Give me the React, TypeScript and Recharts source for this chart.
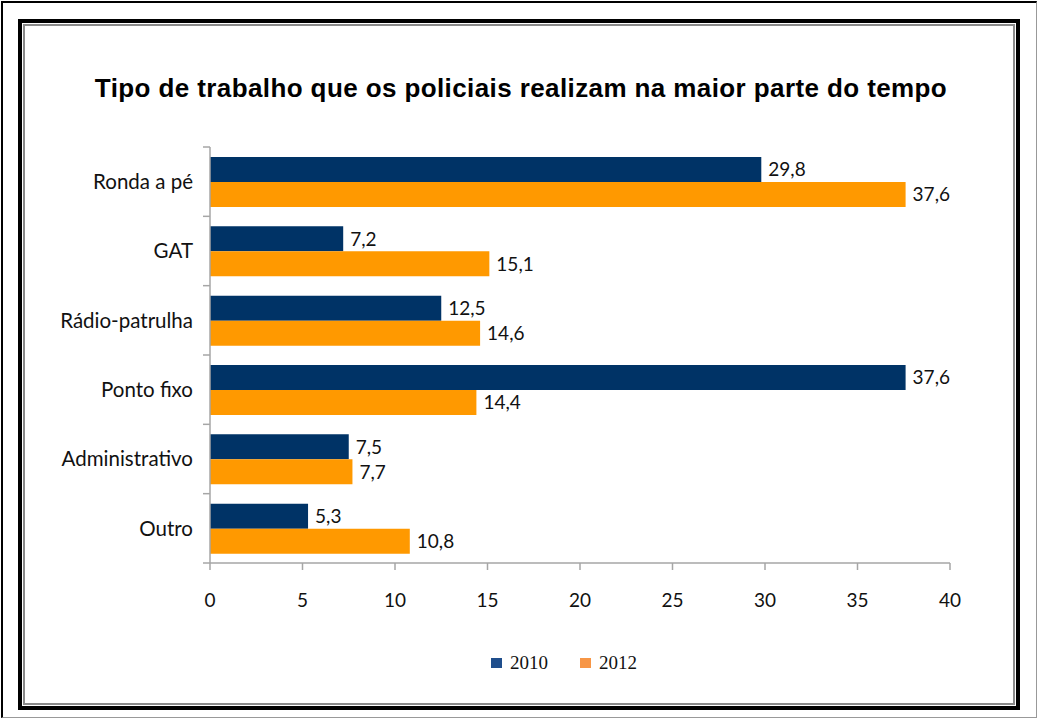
import React from 'react';
import { BarChart, Bar, XAxis, YAxis, LabelList } from 'recharts';

const categories = ['Ronda a pé', 'GAT', 'Rádio-patrulha', 'Ponto fixo', 'Administrativo', 'Outro'];
const values2010 = [29.8, 7.2, 12.5, 37.6, 7.5, 5.3];
const values2012 = [37.6, 15.1, 14.6, 14.4, 7.7, 10.8];
const xTicks = [0, 5, 10, 15, 20, 25, 30, 35, 40];
const seriesNames = ['2010', '2012'];
const title = 'Tipo de trabalho que os policiais realizam na maior parte do tempo';

const data = categories.map((name, i) => ({ name, y2010: values2010[i], y2012: values2012[i] }));

const W = 1039;
const H = 720;
const PLOT_LEFT = 210;
const PLOT_RIGHT = 950;
const PLOT_TOP = 147;
const PLOT_BOTTOM = 563;
const BAND = (PLOT_BOTTOM - PLOT_TOP) / categories.length;
const AXIS_COLOR = '#a6a6a6';
const C2010 = '#003366';
const C2012 = '#ff9900';
const LABEL_FONT = 'Lato, "Open Sans", sans-serif';

const fmt = (v: number) => v.toFixed(1).replace('.', ',');

const CategoryTick = (props: any) => {
  const { y, payload, index } = props;
  return (
    <g>
      <line x1={PLOT_LEFT - 7} x2={PLOT_LEFT} y1={y - BAND / 2} y2={y - BAND / 2} stroke={AXIS_COLOR} strokeWidth={1.5} />
      {index === categories.length - 1 && (
        <line x1={PLOT_LEFT - 7} x2={PLOT_LEFT} y1={y + BAND / 2} y2={y + BAND / 2} stroke={AXIS_COLOR} strokeWidth={1.5} />
      )}
      <text x={193} y={y} dy="0.35em" textAnchor="end" fontFamily={LABEL_FONT} fontSize={20.5} fill="#111">
        {payload.value}
      </text>
    </g>
  );
};

export default function App() {
  return (
    <div style={{ position: 'absolute', left: 0, top: 0, width: W, height: H, background: '#fff', overflow: 'hidden' }}>
      {/* outer page border */}
      <div style={{ position: 'absolute', left: 1, top: 1, width: W - 3, height: H - 3, borderLeft: '2px solid #000', borderTop: '2px solid #000', borderRight: '1px solid #999', borderBottom: '1px solid #999', boxSizing: 'border-box' }} />
      {/* frame */}
      <div style={{ position: 'absolute', left: 18, top: 19, width: 1002, height: 691, border: '4px solid #000', boxSizing: 'border-box' }} />
      <div style={{ position: 'absolute', left: 23, top: 24, width: 992, height: 681, border: '2px solid #8a8a8a', boxSizing: 'border-box' }} />
      {/* title */}
      <div style={{ position: 'absolute', left: 0, top: 73, width: 1042, textAlign: 'center', fontFamily: '"Liberation Sans", Arimo, Arial, sans-serif', fontWeight: 'bold', fontSize: 26, letterSpacing: '0.4px', color: '#000', lineHeight: '30px', whiteSpace: 'nowrap' }}>
        {title}
      </div>
      <div style={{ position: 'absolute', left: 0, top: 0 }}>
        <BarChart
          width={W}
          height={H}
          data={data}
          layout="vertical"
          margin={{ top: PLOT_TOP, right: W - PLOT_RIGHT, bottom: H - PLOT_BOTTOM - 40, left: 10 }}
          barCategoryGap={10}
          barGap={0}
        >
          <XAxis
            type="number"
            domain={[0, 40]}
            ticks={xTicks}
            interval={0}
            height={40}
            tickSize={7}
            tickMargin={24}
            stroke={AXIS_COLOR}
            axisLine={{ stroke: AXIS_COLOR, strokeWidth: 1.5 }}
            tickLine={{ stroke: AXIS_COLOR, strokeWidth: 1.5 }}
            tick={{ fill: '#111', fontFamily: LABEL_FONT, fontSize: 19 }}
          />
          <YAxis
            type="category"
            dataKey="name"
            width={200}
            interval={0}
            tickLine={false}
            axisLine={{ stroke: AXIS_COLOR, strokeWidth: 1.5 }}
            tick={<CategoryTick />}
          />
          <Bar dataKey="y2010" name={seriesNames[0]} fill={C2010} isAnimationActive={false}>
            <LabelList dataKey="y2010" position="right" offset={7} formatter={(v: any) => fmt(Number(v))} style={{ fill: '#111', fontFamily: LABEL_FONT, fontSize: 19 }} />
          </Bar>
          <Bar dataKey="y2012" name={seriesNames[1]} fill={C2012} isAnimationActive={false}>
            <LabelList dataKey="y2012" position="right" offset={7} formatter={(v: any) => fmt(Number(v))} style={{ fill: '#111', fontFamily: LABEL_FONT, fontSize: 19 }} />
          </Bar>
        </BarChart>
      </div>
      {/* legend */}
      <div style={{ position: 'absolute', left: 491, top: 650, height: 26, display: 'flex', alignItems: 'center', fontFamily: '"Liberation Serif", "Times New Roman", serif', fontSize: 19, color: '#111' }}>
        <span style={{ display: 'inline-block', width: 11, height: 10, background: '#1f4e8c', marginRight: 8 }} />
        <span>{seriesNames[0]}</span>
        <span style={{ display: 'inline-block', width: 11, height: 10, background: '#f79646', marginLeft: 32, marginRight: 8 }} />
        <span>{seriesNames[1]}</span>
      </div>
    </div>
  );
}
